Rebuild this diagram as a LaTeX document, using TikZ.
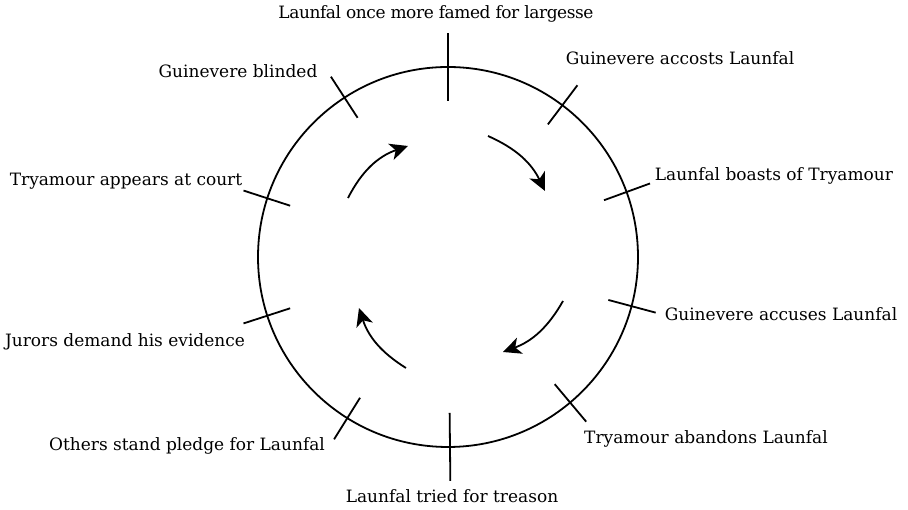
\documentclass[tikz,border=0pt]{standalone}
\usepackage{fontspec}
\setmainfont{DejaVu Serif}
\usetikzlibrary{arrows.meta}
\begin{document}
\begin{tikzpicture}[x=1pt,y=1pt,
  ring/.style={line width=1.8pt},
  tick/.style={line width=1.8pt},
  flow/.style={line width=1.8pt,-{Stealth[length=18pt,width=17pt,inset=5pt]}},
  event/.style={font=\fontsize{17}{20}\selectfont,anchor=base,inner sep=0pt}]
  \useasboundingbox (0,0) rectangle (908,510);
  \coordinate (c) at (448,253);
  % the cycle
  \draw[ring] (c) circle[radius=190];
  % long ticks at top and bottom
  \path (c) ++(90:156) coordinate (tin-top) (c) ++(90:224) coordinate (tout-top);
  \path (c) ++(-89.4:156) coordinate (tin-bot) (c) ++(-89.4:224) coordinate (tout-bot);
  \draw[tick] (tin-top) -- (tout-top);
  \draw[tick] (tin-bot) -- (tout-bot);
  % short ticks around the ring
  \foreach \a/\n in {53/acc,20/boa,-15/cus,-50/aba,238/ple,198/jur,162/app,123/bli}{
    \path (c) ++(\a:166) coordinate (tin-\n) (c) ++(\a:215) coordinate (tout-\n);
    \draw[tick] (tin-\n) -- (tout-\n);
  }
  % direction of the cycle
  \coordinate (a1s) at (348,312); \coordinate (a1e) at (408,364);
  \coordinate (a2s) at (488,374); \coordinate (a2e) at (545,319);
  \coordinate (a3s) at (563,209); \coordinate (a3e) at (503,158);
  \coordinate (a4s) at (406,142); \coordinate (a4e) at (359,202);
  \draw[flow] (a1s) to[bend left=22] (a1e);
  \draw[flow] (a2s) to[bend left=20] (a2e);
  \draw[flow] (a3s) to[bend left=20] (a3e);
  \draw[flow] (a4s) to[bend left=20] (a4e);
  % events
  \node[event] (e1)  at (436,491) {\addfontfeatures{LetterSpace=-2.5}Launfal once more famed for largesse};
  \node[event] (e2)  at (680,445) {Guinevere accosts Launfal};
  \node[event] (e3)  at (774,329) {Launfal boasts of Tryamour};
  \node[event] (e4)  at (781,189) {Guinevere accuses Launfal};
  \node[event] (e5)  at (706,66)  {Tryamour abandons Launfal};
  \node[event] (e6)  at (452,7)   {Launfal tried for treason};
  \node[event] (e7)  at (187,59)  {Others stand pledge for Launfal};
  \node[event] (e8)  at (125,163) {Jurors demand his evidence};
  \node[event] (e9)  at (126,324) {Tryamour appears at court};
  \node[event] (e10) at (238,432) {Guinevere blinded};
\end{tikzpicture}
\end{document}
